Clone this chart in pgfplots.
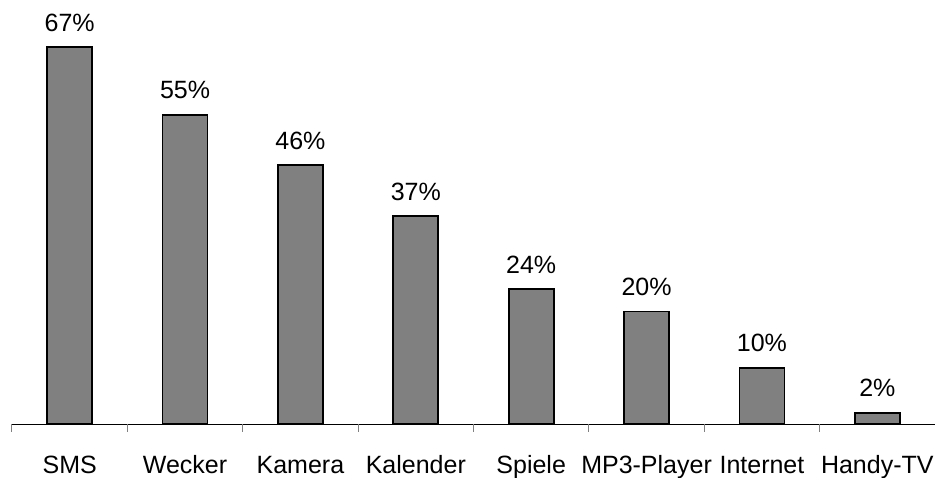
\documentclass[border=0pt]{standalone}
\usepackage{fontspec}
\setmainfont{Liberation Sans}
\usepackage{pgfplots}
\pgfplotsset{compat=1.18}
\begin{document}
\fontsize{25}{30}\selectfont
\begin{tikzpicture}
\begin{axis}[
  at={(0pt,0pt)}, anchor=south west,
  scale only axis, width=923pt, height=424pt,
  xmin=-0.5, xmax=7.5, ymin=0, ymax=75.4,
  axis x line*=bottom, axis y line=none,
  axis line style={black, line width=1pt},
  xtick={0,...,7},
  xticklabels={SMS,Wecker,Kamera,Kalender,Spiele,MP3-Player,Internet,Handy-TV},
  major tick length=0pt,
  tick align=outside,
  extra x ticks={-0.5,0.5,1.5,2.5,3.5,4.5,5.5,6.5,7.5},
  extra x tick labels={},
  extra x tick style={major tick length=8pt, tick style={gray, line width=1pt}},
  xticklabel style={font=\fontsize{25}{30}\selectfont, anchor=north, inner sep=0pt, text height=18.2pt, text depth=0pt, yshift=-31pt},
  ybar, bar width=45pt,
  point meta=explicit symbolic,
  nodes near coords,
  every node near coord/.append style={font=\fontsize{25}{30}\selectfont, inner sep=0pt, text depth=0pt, yshift=15pt, black},
  clip=false,
]
\addplot[fill=black!50, draw=black, line width=1.8pt] coordinates {
  (0,67) [67\%]
  (1,55) [55\%]
  (2,46) [46\%]
  (3,37) [37\%]
  (4,24) [24\%]
  (5,20) [20\%]
  (6,10) [10\%]
  (7,2) [2\%]
};
\end{axis}
\pgfresetboundingbox
\useasboundingbox (-12pt,-53pt) rectangle (923pt,424pt);
\end{tikzpicture}
\end{document}
